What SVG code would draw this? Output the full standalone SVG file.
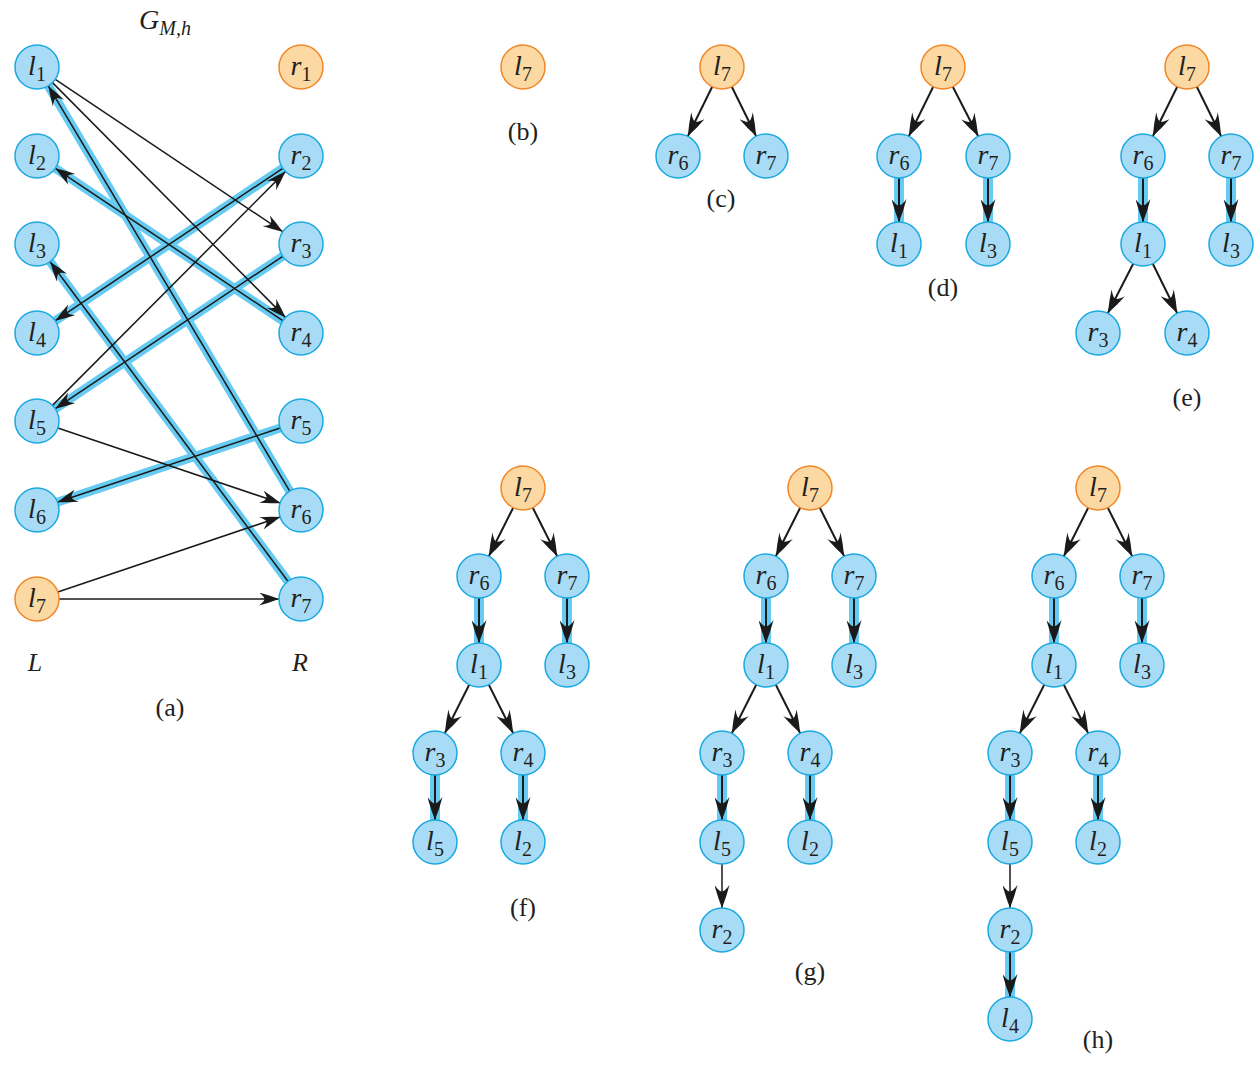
<svg xmlns="http://www.w3.org/2000/svg" width="1254" height="1071" viewBox="0 0 1254 1071">
<style>
.nb{fill:#a8dcf6;stroke:#1ba9e1;stroke-width:1.5}
.no{fill:#fcd8a2;stroke:#f0882a;stroke-width:1.5}
.t{font-family:"Liberation Serif",serif;font-size:28px;text-anchor:middle;fill:#231f20}
.i{font-style:italic}
.s{font-size:20px}
.hl{stroke:#66cbf2;stroke-width:9;fill:none}
.hlt{stroke:#66cbf2;stroke-width:10;fill:none}
.e{stroke:#1a1a1a;stroke-width:1.5;fill:none;marker-end:url(#ah)}
.e2{stroke:#1a1a1a;stroke-width:2;fill:none;marker-end:url(#ah2)}
.lab{font-family:"Liberation Serif",serif;font-size:26px;text-anchor:middle;fill:#231f20}
</style>
<defs>
<marker id="ah" viewBox="0 0 21 13" refX="20.5" refY="6.5" markerWidth="21" markerHeight="13" markerUnits="userSpaceOnUse" orient="auto">
<path d="M20.5,6.5 Q10,2.5 0.5,0 Q6,4.2 6,6.5 Q6,8.8 0.5,13 Q10,10.5 20.5,6.5 Z" fill="#1a1a1a"/>
</marker>
<marker id="ah2" viewBox="0 0 24 15" refX="23.5" refY="7.5" markerWidth="24" markerHeight="15" markerUnits="userSpaceOnUse" orient="auto">
<path d="M23.5,7.5 Q12,3 0.5,0 Q7,4.8 7,7.5 Q7,10.2 0.5,15 Q12,12 23.5,7.5 Z" fill="#1a1a1a"/>
</marker>
</defs>
<rect width="1254" height="1071" fill="#ffffff"/>

<g id="connectors">
<g class="hl">
<line x1="289.7" y1="491.1" x2="48.3" y2="85.9"/>
<line x1="282.7" y1="320.7" x2="55.3" y2="168.3"/>
<line x1="287.9" y1="581.3" x2="50.1" y2="261.7"/>
<line x1="282.7" y1="168.3" x2="55.3" y2="320.7"/>
<line x1="282.7" y1="256.3" x2="55.3" y2="408.7"/>
<line x1="280.2" y1="428.0" x2="57.8" y2="502.0"/>
</g>
<g class="hlt">
<line x1="899" y1="178" x2="899" y2="222"/>
<line x1="988" y1="178" x2="988" y2="222"/>
<line x1="1143" y1="178" x2="1143" y2="222"/>
<line x1="1231" y1="178" x2="1231" y2="222"/>
<line x1="479" y1="598" x2="479" y2="643"/>
<line x1="567" y1="598" x2="567" y2="643"/>
<line x1="435" y1="775" x2="435" y2="820"/>
<line x1="523" y1="775" x2="523" y2="820"/>
<line x1="766" y1="598" x2="766" y2="643"/>
<line x1="854" y1="598" x2="854" y2="643"/>
<line x1="722" y1="775" x2="722" y2="820"/>
<line x1="810" y1="775" x2="810" y2="820"/>
<line x1="1054" y1="598" x2="1054" y2="643"/>
<line x1="1142" y1="598" x2="1142" y2="643"/>
<line x1="1010" y1="775" x2="1010" y2="820"/>
<line x1="1098" y1="775" x2="1098" y2="820"/>
<line x1="1010" y1="952" x2="1010" y2="997"/>
</g>
<g class="e">
<line x1="55.3" y1="79.3" x2="282.7" y2="231.7"/>
<line x1="52.5" y1="82.6" x2="285.5" y2="317.4"/>
<line x1="52.5" y1="405.4" x2="285.5" y2="171.6"/>
<line x1="57.8" y1="428.0" x2="280.2" y2="503.0"/>
<line x1="57.8" y1="592.0" x2="280.2" y2="517.0"/>
<line x1="59" y1="599" x2="279" y2="599"/>
<line x1="289.7" y1="491.1" x2="48.3" y2="85.9"/>
<line x1="282.7" y1="320.7" x2="55.3" y2="168.3"/>
<line x1="287.9" y1="581.3" x2="50.1" y2="261.7"/>
<line x1="282.7" y1="168.3" x2="55.3" y2="320.7"/>
<line x1="282.7" y1="256.3" x2="55.3" y2="408.7"/>
<line x1="280.2" y1="428.0" x2="57.8" y2="502.0"/>
</g>
<g class="e2">
<line x1="712.2" y1="86.7" x2="687.8" y2="136.3"/>
<line x1="731.8" y1="86.7" x2="756.2" y2="136.3"/>

<line x1="933.2" y1="86.7" x2="908.8" y2="136.3"/>
<line x1="952.8" y1="86.7" x2="978.2" y2="136.3"/>
<line x1="899" y1="178" x2="899" y2="222"/>
<line x1="988" y1="178" x2="988" y2="222"/>

<line x1="1177.2" y1="86.7" x2="1152.8" y2="136.3"/>
<line x1="1196.8" y1="86.7" x2="1221.2" y2="136.3"/>
<line x1="1143" y1="178" x2="1143" y2="222"/>
<line x1="1231" y1="178" x2="1231" y2="222"/>
<line x1="1133.2" y1="263.7" x2="1107.8" y2="313.3"/>
<line x1="1152.8" y1="263.7" x2="1177.2" y2="313.3"/>

<line x1="513.2" y1="507.7" x2="488.8" y2="556.3"/>
<line x1="532.8" y1="507.7" x2="557.2" y2="556.3"/>
<line x1="479" y1="598" x2="479" y2="643"/>
<line x1="567" y1="598" x2="567" y2="643"/>
<line x1="469.2" y1="684.7" x2="444.8" y2="733.3"/>
<line x1="488.8" y1="684.7" x2="513.2" y2="733.3"/>
<line x1="435" y1="775" x2="435" y2="820"/>
<line x1="523" y1="775" x2="523" y2="820"/>

<line x1="800.2" y1="507.7" x2="775.8" y2="556.3"/>
<line x1="819.8" y1="507.7" x2="844.2" y2="556.3"/>
<line x1="766" y1="598" x2="766" y2="643"/>
<line x1="854" y1="598" x2="854" y2="643"/>
<line x1="756.2" y1="684.7" x2="731.8" y2="733.3"/>
<line x1="775.8" y1="684.7" x2="800.2" y2="733.3"/>
<line x1="722" y1="775" x2="722" y2="820"/>
<line x1="810" y1="775" x2="810" y2="820"/>
<line x1="722" y1="864" x2="722" y2="908" style="stroke-width:1.5"/>

<line x1="1088.2" y1="507.7" x2="1063.8" y2="556.3"/>
<line x1="1107.8" y1="507.7" x2="1132.2" y2="556.3"/>
<line x1="1054" y1="598" x2="1054" y2="643"/>
<line x1="1142" y1="598" x2="1142" y2="643"/>
<line x1="1044.2" y1="684.7" x2="1019.8" y2="733.3"/>
<line x1="1063.8" y1="684.7" x2="1088.2" y2="733.3"/>
<line x1="1010" y1="775" x2="1010" y2="820"/>
<line x1="1098" y1="775" x2="1098" y2="820"/>
<line x1="1010" y1="864" x2="1010" y2="908" style="stroke-width:1.5"/>
<line x1="1010" y1="952" x2="1010" y2="997"/>
</g>
</g>

<g id="a-l1"><circle class="nb" cx="37" cy="67" r="22"/><text class="t" x="37" y="75"><tspan class="i">l</tspan><tspan class="s" dy="6">1</tspan></text></g>
<g id="a-l2"><circle class="nb" cx="37" cy="156" r="22"/><text class="t" x="37" y="164"><tspan class="i">l</tspan><tspan class="s" dy="6">2</tspan></text></g>
<g id="a-l3"><circle class="nb" cx="37" cy="244" r="22"/><text class="t" x="37" y="252"><tspan class="i">l</tspan><tspan class="s" dy="6">3</tspan></text></g>
<g id="a-l4"><circle class="nb" cx="37" cy="333" r="22"/><text class="t" x="37" y="341"><tspan class="i">l</tspan><tspan class="s" dy="6">4</tspan></text></g>
<g id="a-l5"><circle class="nb" cx="37" cy="421" r="22"/><text class="t" x="37" y="429"><tspan class="i">l</tspan><tspan class="s" dy="6">5</tspan></text></g>
<g id="a-l6"><circle class="nb" cx="37" cy="510" r="22"/><text class="t" x="37" y="518"><tspan class="i">l</tspan><tspan class="s" dy="6">6</tspan></text></g>
<g id="a-l7"><circle class="no" cx="37" cy="599" r="22"/><text class="t" x="37" y="607"><tspan class="i">l</tspan><tspan class="s" dy="6">7</tspan></text></g>
<g id="a-r1"><circle class="no" cx="301" cy="67" r="22"/><text class="t" x="301" y="75"><tspan class="i">r</tspan><tspan class="s" dy="6">1</tspan></text></g>
<g id="a-r2"><circle class="nb" cx="301" cy="156" r="22"/><text class="t" x="301" y="164"><tspan class="i">r</tspan><tspan class="s" dy="6">2</tspan></text></g>
<g id="a-r3"><circle class="nb" cx="301" cy="244" r="22"/><text class="t" x="301" y="252"><tspan class="i">r</tspan><tspan class="s" dy="6">3</tspan></text></g>
<g id="a-r4"><circle class="nb" cx="301" cy="333" r="22"/><text class="t" x="301" y="341"><tspan class="i">r</tspan><tspan class="s" dy="6">4</tspan></text></g>
<g id="a-r5"><circle class="nb" cx="301" cy="421" r="22"/><text class="t" x="301" y="429"><tspan class="i">r</tspan><tspan class="s" dy="6">5</tspan></text></g>
<g id="a-r6"><circle class="nb" cx="301" cy="510" r="22"/><text class="t" x="301" y="518"><tspan class="i">r</tspan><tspan class="s" dy="6">6</tspan></text></g>
<g id="a-r7"><circle class="nb" cx="301" cy="599" r="22"/><text class="t" x="301" y="607"><tspan class="i">r</tspan><tspan class="s" dy="6">7</tspan></text></g>

<g id="b-l7"><circle class="no" cx="523" cy="67" r="22"/><text class="t" x="523" y="75"><tspan class="i">l</tspan><tspan class="s" dy="6">7</tspan></text></g>

<g id="c-l7"><circle class="no" cx="722" cy="67" r="22"/><text class="t" x="722" y="75"><tspan class="i">l</tspan><tspan class="s" dy="6">7</tspan></text></g>
<g id="c-r6"><circle class="nb" cx="678" cy="156" r="22"/><text class="t" x="678" y="164"><tspan class="i">r</tspan><tspan class="s" dy="6">6</tspan></text></g>
<g id="c-r7"><circle class="nb" cx="766" cy="156" r="22"/><text class="t" x="766" y="164"><tspan class="i">r</tspan><tspan class="s" dy="6">7</tspan></text></g>

<g id="d-l7"><circle class="no" cx="943" cy="67" r="22"/><text class="t" x="943" y="75"><tspan class="i">l</tspan><tspan class="s" dy="6">7</tspan></text></g>
<g id="d-r6"><circle class="nb" cx="899" cy="156" r="22"/><text class="t" x="899" y="164"><tspan class="i">r</tspan><tspan class="s" dy="6">6</tspan></text></g>
<g id="d-r7"><circle class="nb" cx="988" cy="156" r="22"/><text class="t" x="988" y="164"><tspan class="i">r</tspan><tspan class="s" dy="6">7</tspan></text></g>
<g id="d-l1"><circle class="nb" cx="899" cy="244" r="22"/><text class="t" x="899" y="252"><tspan class="i">l</tspan><tspan class="s" dy="6">1</tspan></text></g>
<g id="d-l3"><circle class="nb" cx="988" cy="244" r="22"/><text class="t" x="988" y="252"><tspan class="i">l</tspan><tspan class="s" dy="6">3</tspan></text></g>

<g id="e-l7"><circle class="no" cx="1187" cy="67" r="22"/><text class="t" x="1187" y="75"><tspan class="i">l</tspan><tspan class="s" dy="6">7</tspan></text></g>
<g id="e-r6"><circle class="nb" cx="1143" cy="156" r="22"/><text class="t" x="1143" y="164"><tspan class="i">r</tspan><tspan class="s" dy="6">6</tspan></text></g>
<g id="e-r7"><circle class="nb" cx="1231" cy="156" r="22"/><text class="t" x="1231" y="164"><tspan class="i">r</tspan><tspan class="s" dy="6">7</tspan></text></g>
<g id="e-l1"><circle class="nb" cx="1143" cy="244" r="22"/><text class="t" x="1143" y="252"><tspan class="i">l</tspan><tspan class="s" dy="6">1</tspan></text></g>
<g id="e-l3"><circle class="nb" cx="1231" cy="244" r="22"/><text class="t" x="1231" y="252"><tspan class="i">l</tspan><tspan class="s" dy="6">3</tspan></text></g>
<g id="e-r3"><circle class="nb" cx="1098" cy="333" r="22"/><text class="t" x="1098" y="341"><tspan class="i">r</tspan><tspan class="s" dy="6">3</tspan></text></g>
<g id="e-r4"><circle class="nb" cx="1187" cy="333" r="22"/><text class="t" x="1187" y="341"><tspan class="i">r</tspan><tspan class="s" dy="6">4</tspan></text></g>

<g id="f-l7"><circle class="no" cx="523" cy="488" r="22"/><text class="t" x="523" y="496"><tspan class="i">l</tspan><tspan class="s" dy="6">7</tspan></text></g>
<g id="f-r6"><circle class="nb" cx="479" cy="576" r="22"/><text class="t" x="479" y="584"><tspan class="i">r</tspan><tspan class="s" dy="6">6</tspan></text></g>
<g id="f-r7"><circle class="nb" cx="567" cy="576" r="22"/><text class="t" x="567" y="584"><tspan class="i">r</tspan><tspan class="s" dy="6">7</tspan></text></g>
<g id="f-l1"><circle class="nb" cx="479" cy="665" r="22"/><text class="t" x="479" y="673"><tspan class="i">l</tspan><tspan class="s" dy="6">1</tspan></text></g>
<g id="f-l3"><circle class="nb" cx="567" cy="665" r="22"/><text class="t" x="567" y="673"><tspan class="i">l</tspan><tspan class="s" dy="6">3</tspan></text></g>
<g id="f-r3"><circle class="nb" cx="435" cy="753" r="22"/><text class="t" x="435" y="761"><tspan class="i">r</tspan><tspan class="s" dy="6">3</tspan></text></g>
<g id="f-r4"><circle class="nb" cx="523" cy="753" r="22"/><text class="t" x="523" y="761"><tspan class="i">r</tspan><tspan class="s" dy="6">4</tspan></text></g>
<g id="f-l5"><circle class="nb" cx="435" cy="842" r="22"/><text class="t" x="435" y="850"><tspan class="i">l</tspan><tspan class="s" dy="6">5</tspan></text></g>
<g id="f-l2"><circle class="nb" cx="523" cy="842" r="22"/><text class="t" x="523" y="850"><tspan class="i">l</tspan><tspan class="s" dy="6">2</tspan></text></g>

<g id="g-l7"><circle class="no" cx="810" cy="488" r="22"/><text class="t" x="810" y="496"><tspan class="i">l</tspan><tspan class="s" dy="6">7</tspan></text></g>
<g id="g-r6"><circle class="nb" cx="766" cy="576" r="22"/><text class="t" x="766" y="584"><tspan class="i">r</tspan><tspan class="s" dy="6">6</tspan></text></g>
<g id="g-r7"><circle class="nb" cx="854" cy="576" r="22"/><text class="t" x="854" y="584"><tspan class="i">r</tspan><tspan class="s" dy="6">7</tspan></text></g>
<g id="g-l1"><circle class="nb" cx="766" cy="665" r="22"/><text class="t" x="766" y="673"><tspan class="i">l</tspan><tspan class="s" dy="6">1</tspan></text></g>
<g id="g-l3"><circle class="nb" cx="854" cy="665" r="22"/><text class="t" x="854" y="673"><tspan class="i">l</tspan><tspan class="s" dy="6">3</tspan></text></g>
<g id="g-r3"><circle class="nb" cx="722" cy="753" r="22"/><text class="t" x="722" y="761"><tspan class="i">r</tspan><tspan class="s" dy="6">3</tspan></text></g>
<g id="g-r4"><circle class="nb" cx="810" cy="753" r="22"/><text class="t" x="810" y="761"><tspan class="i">r</tspan><tspan class="s" dy="6">4</tspan></text></g>
<g id="g-l5"><circle class="nb" cx="722" cy="842" r="22"/><text class="t" x="722" y="850"><tspan class="i">l</tspan><tspan class="s" dy="6">5</tspan></text></g>
<g id="g-l2"><circle class="nb" cx="810" cy="842" r="22"/><text class="t" x="810" y="850"><tspan class="i">l</tspan><tspan class="s" dy="6">2</tspan></text></g>
<g id="g-r2"><circle class="nb" cx="722" cy="930" r="22"/><text class="t" x="722" y="938"><tspan class="i">r</tspan><tspan class="s" dy="6">2</tspan></text></g>

<g id="h-l7"><circle class="no" cx="1098" cy="488" r="22"/><text class="t" x="1098" y="496"><tspan class="i">l</tspan><tspan class="s" dy="6">7</tspan></text></g>
<g id="h-r6"><circle class="nb" cx="1054" cy="576" r="22"/><text class="t" x="1054" y="584"><tspan class="i">r</tspan><tspan class="s" dy="6">6</tspan></text></g>
<g id="h-r7"><circle class="nb" cx="1142" cy="576" r="22"/><text class="t" x="1142" y="584"><tspan class="i">r</tspan><tspan class="s" dy="6">7</tspan></text></g>
<g id="h-l1"><circle class="nb" cx="1054" cy="665" r="22"/><text class="t" x="1054" y="673"><tspan class="i">l</tspan><tspan class="s" dy="6">1</tspan></text></g>
<g id="h-l3"><circle class="nb" cx="1142" cy="665" r="22"/><text class="t" x="1142" y="673"><tspan class="i">l</tspan><tspan class="s" dy="6">3</tspan></text></g>
<g id="h-r3"><circle class="nb" cx="1010" cy="753" r="22"/><text class="t" x="1010" y="761"><tspan class="i">r</tspan><tspan class="s" dy="6">3</tspan></text></g>
<g id="h-r4"><circle class="nb" cx="1098" cy="753" r="22"/><text class="t" x="1098" y="761"><tspan class="i">r</tspan><tspan class="s" dy="6">4</tspan></text></g>
<g id="h-l5"><circle class="nb" cx="1010" cy="842" r="22"/><text class="t" x="1010" y="850"><tspan class="i">l</tspan><tspan class="s" dy="6">5</tspan></text></g>
<g id="h-l2"><circle class="nb" cx="1098" cy="842" r="22"/><text class="t" x="1098" y="850"><tspan class="i">l</tspan><tspan class="s" dy="6">2</tspan></text></g>
<g id="h-r2"><circle class="nb" cx="1010" cy="930" r="22"/><text class="t" x="1010" y="938"><tspan class="i">r</tspan><tspan class="s" dy="6">2</tspan></text></g>
<g id="h-l4"><circle class="nb" cx="1010" cy="1019" r="22"/><text class="t" x="1010" y="1027"><tspan class="i">l</tspan><tspan class="s" dy="6">4</tspan></text></g>

<g id="labels">
<text class="t" x="139" y="29" style="text-anchor:start"><tspan class="i">G</tspan><tspan class="i" style="font-size:20px" dy="6">M,h</tspan></text>
<text class="lab i" x="35" y="671">L</text>
<text class="lab i" x="300" y="671">R</text>
<text class="lab" x="170" y="716">(a)</text>
<text class="lab" x="523" y="140">(b)</text>
<text class="lab" x="721" y="207">(c)</text>
<text class="lab" x="943" y="296">(d)</text>
<text class="lab" x="1187" y="406">(e)</text>
<text class="lab" x="523" y="916">(f)</text>
<text class="lab" x="810" y="980">(g)</text>
<text class="lab" x="1098" y="1048">(h)</text>
</g>
</svg>
